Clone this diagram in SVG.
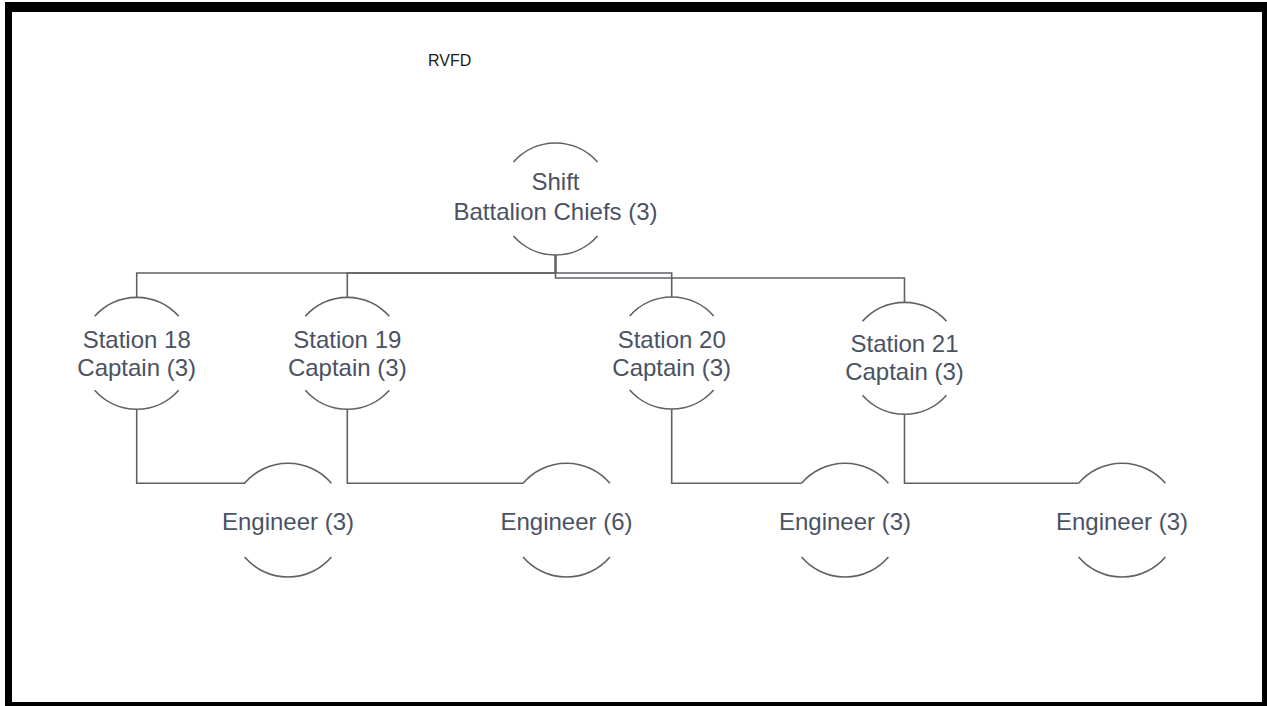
<svg xmlns="http://www.w3.org/2000/svg" width="1267" height="706" viewBox="0 0 1267 706">
<style>
.arc{fill:none;stroke:#5f6166;stroke-width:1.6}
.con{fill:none;stroke:#5f6166;stroke-width:1.6}
.lbl{font-family:"Liberation Sans",Arial,sans-serif;font-size:24px;fill:#4a5263;text-anchor:middle}
.title{font-family:"Liberation Sans",Arial,sans-serif;font-size:16px;fill:#1a1a1a}
</style>
<rect x="0" y="0" width="1267" height="706" fill="#ffffff"/>
<rect x="5" y="2" width="1262" height="704" fill="#000000"/>
<rect x="12" y="12" width="1250" height="690" fill="#ffffff"/>
<text class="title" x="428" y="66">RVFD</text>
<g id="connectors">
<path class="con" d="M555.5 255 V273 H136.7 V297.3"/>
<path class="con" d="M555.5 255 V273 H347.3 V297.3"/>
<path class="con" d="M555.5 255 V273 H671.7 V297"/>
<path class="con" d="M555.5 255 V278 H904.5 V302.3"/>
<path class="con" d="M136.7 409.3 V483.3 H245"/>
<path class="con" d="M347.3 409.3 V483.3 H523"/>
<path class="con" d="M671.7 409 V483.3 H801.5"/>
<path class="con" d="M904.5 414.3 V483.3 H1078.5"/>
</g>
<g id="node-bc">
<path class="arc" d="M513.5 162 A56 56 0 0 1 597.5 162"/>
<path class="arc" d="M513.5 236 A56 56 0 0 0 597.5 236"/>
<text class="lbl" x="555.5" y="190">Shift<tspan x="555.5" dy="30">Battalion Chiefs (3)</tspan></text>
</g>
<g id="node-s18">
<path class="arc" d="M94.7 316.3 A56 56 0 0 1 178.7 316.3"/>
<path class="arc" d="M94.7 390.3 A56 56 0 0 0 178.7 390.3"/>
<text class="lbl" x="136.7" y="348">Station 18<tspan x="136.7" dy="27.5">Captain (3)</tspan></text>
</g>
<g id="node-s19">
<path class="arc" d="M305.3 316.3 A56 56 0 0 1 389.3 316.3"/>
<path class="arc" d="M305.3 390.3 A56 56 0 0 0 389.3 390.3"/>
<text class="lbl" x="347.3" y="348">Station 19<tspan x="347.3" dy="27.5">Captain (3)</tspan></text>
</g>
<g id="node-s20">
<path class="arc" d="M629.7 316 A56 56 0 0 1 713.7 316"/>
<path class="arc" d="M629.7 390 A56 56 0 0 0 713.7 390"/>
<text class="lbl" x="671.7" y="348">Station 20<tspan x="671.7" dy="27.5">Captain (3)</tspan></text>
</g>
<g id="node-s21">
<path class="arc" d="M862.5 321.3 A56 56 0 0 1 946.5 321.3"/>
<path class="arc" d="M862.5 395.3 A56 56 0 0 0 946.5 395.3"/>
<text class="lbl" x="904.5" y="352">Station 21<tspan x="904.5" dy="27.5">Captain (3)</tspan></text>
</g>
<g id="node-e1">
<path class="arc" d="M244.6 483.3 A57 57 0 0 1 331.4 483.3"/>
<path class="arc" d="M244.6 557 A57 57 0 0 0 331.4 557"/>
<text class="lbl" x="288" y="530">Engineer (3)</text>
</g>
<g id="node-e2">
<path class="arc" d="M523.1 483.3 A57 57 0 0 1 609.9 483.3"/>
<path class="arc" d="M523.1 557 A57 57 0 0 0 609.9 557"/>
<text class="lbl" x="566.5" y="530">Engineer (6)</text>
</g>
<g id="node-e3">
<path class="arc" d="M801.6 483.3 A57 57 0 0 1 888.4 483.3"/>
<path class="arc" d="M801.6 557 A57 57 0 0 0 888.4 557"/>
<text class="lbl" x="845" y="530">Engineer (3)</text>
</g>
<g id="node-e4">
<path class="arc" d="M1078.6 483.3 A57 57 0 0 1 1165.4 483.3"/>
<path class="arc" d="M1078.6 557 A57 57 0 0 0 1165.4 557"/>
<text class="lbl" x="1122" y="530">Engineer (3)</text>
</g>
</svg>
